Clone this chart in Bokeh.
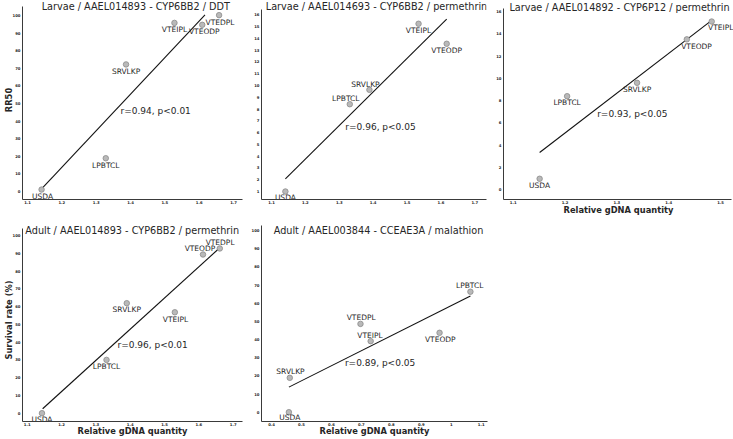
from bokeh.plotting import figure
from bokeh.models import Range1d, FixedTicker, Label, ColumnDataSource
from bokeh.layouts import column, row
from bokeh.embed import file_html
from bokeh.resources import INLINE
from bokeh.core.properties import value

# ---------------- data ----------------
# Panel 1: Larvae / AAEL014893 - CYP6BB2 / DDT
p1_names = ["USDA", "LPBTCL", "SRVLKP", "VTEIPL", "VTEODP", "VTEDPL"]
p1_x = [1.141, 1.328, 1.387, 1.528, 1.609, 1.658]
p1_y = [1.1, 18.9, 72.2, 95.8, 94.7, 100.2]
p1_fit_x = [1.141, 1.617]
p1_fit_y = [1.5, 100.4]
p1_stat = "r=0.94, p<0.01"
p1_xticks = [1.1, 1.2, 1.3, 1.4, 1.5, 1.6, 1.7]
p1_yticks = [0, 10, 20, 30, 40, 50, 60, 70, 80, 90, 100]

# Panel 2: Larvae / AAEL014693 - CYP6BB2 / permethrin
p2_names = ["USDA", "LPBTCL", "SRVLKP", "VTEIPL", "VTEODP"]
p2_x = [1.141, 1.331, 1.389, 1.534, 1.617]
p2_y = [1.0, 8.41, 9.63, 15.24, 13.54]
p2_fit_x = [1.141, 1.617]
p2_fit_y = [2.08, 15.63]
p2_stat = "r=0.96, p<0.05"
p2_xticks = [1.1, 1.2, 1.3, 1.4, 1.5, 1.6, 1.7]
p2_yticks = [1, 2, 3, 4, 5, 6, 7, 8, 9, 10, 11, 12, 13, 14, 15, 16]

# Panel 3: Larvae / AAEL014892 - CYP6P12 / permethrin
p3_names = ["USDA", "LPBTCL", "SRVLKP", "VTEODP", "VTEIPL"]
p3_x = [1.151, 1.204, 1.339, 1.435, 1.483]
p3_y = [0.99, 8.40, 9.6, 13.5, 15.1]
p3_fit_x = [1.151, 1.483]
p3_fit_y = [3.35, 15.2]
p3_stat = "r=0.93, p<0.05"
p3_xticks = [1.1, 1.2, 1.3, 1.4, 1.5]
p3_yticks = [0, 2, 4, 6, 8, 10, 12, 14, 16]

# Panel 4: Adult / AAEL014893 - CYP6BB2 / permethrin
p4_names = ["USDA", "LPBTCL", "SRVLKP", "VTEIPL", "VTEODP", "VTEDPL"]
p4_x = [1.143, 1.331, 1.39, 1.53, 1.612, 1.661]
p4_y = [0.0, 30.0, 61.9, 56.8, 89.3, 92.7]
p4_fit_x = [1.145, 1.661]
p4_fit_y = [2.5, 93.1]
p4_stat = "r=0.96, p<0.01"
p4_xticks = [1.1, 1.2, 1.3, 1.4, 1.5, 1.6, 1.7]
p4_yticks = [0, 10, 20, 30, 40, 50, 60, 70, 80, 90, 100]

# Panel 5: Adult / AAEL003844 - CCEAE3A / malathion
p5_names = ["USDA", "SRVLKP", "VTEDPL", "VTEIPL", "VTEODP", "LPBTCL"]
p5_x = [0.458, 0.461, 0.697, 0.731, 0.961, 1.064]
p5_y = [0.0, 18.9, 48.6, 39.1, 43.7, 66.3]
p5_fit_x = [0.458, 1.064]
p5_fit_y = [13.8, 63.9]
p5_stat = "r=0.89, p<0.05"
p5_xticks = [0.4, 0.5, 0.6, 0.7, 0.8, 0.9, 1.0, 1.1]
p5_xtick_labels = ["0.4", "0.5", "0.6", "0.7", "0.8", "0.9", "1", "1.1"]
p5_yticks = [0, 10, 20, 30, 40, 50, 60, 70, 80, 90, 100]

titles = [
    "Larvae / AAEL014893 - CYP6BB2 / DDT",
    "Larvae / AAEL014693 - CYP6BB2 / permethrin",
    "Larvae / AAEL014892 - CYP6P12 / permethrin",
    "Adult / AAEL014893 - CYP6BB2 / permethrin",
    "Adult / AAEL003844 - CCEAE3A / malathion",
]
x_label = "Relative gDNA quantity"
y_label_top = "RR50"
y_label_bottom = "Survival rate (%)"

# ---------------- styling / layout ----------------
FONT = "DejaVu Sans"
TXT = "#262626"


def lin(v0, p0, v1, p1):
    """pixel -> value mapping built from two tick anchors"""
    return lambda px: v0 + (px - p0) * (v1 - v0) / (p1 - p0)


def make_panel(fig_box, frame, xanc, yanc, spine, names, xs, ys, fx, fy,
               stat, stat_pos, xticks, yticks, dx, dy, title, title_pos,
               xlab=None, ylab=None, xtick_labels=None, xlab_standoff=-2):
    fx0, fy0, fw, fh = fig_box
    L, R, T, B = frame
    xv = lin(*xanc)
    yv = lin(*yanc)
    p = figure(width=fw, height=fh,
               x_range=Range1d(xv(L), xv(R)), y_range=Range1d(yv(B), yv(T)),
               min_border_left=L - fx0, min_border_right=fx0 + fw - R,
               min_border_top=T - fy0, min_border_bottom=fy0 + fh - B,
               toolbar_location=None, output_backend="svg", title=None)
    p.outline_line_color = None
    p.background_fill_color = "white"
    p.border_fill_color = "white"
    p.xgrid.visible = False
    p.ygrid.visible = False
    for ax in (p.xaxis[0], p.yaxis[0]):
        ax.axis_line_color = "#3a3a3a"
        ax.axis_line_width = 1
        ax.major_tick_line_color = None
        ax.minor_tick_line_color = None
        ax.major_tick_in = 0
        ax.major_tick_out = 0
        ax.major_label_text_font = FONT
        ax.major_label_text_font_size = "3.8px"
        ax.major_label_text_font_style = "bold"
        ax.major_label_text_color = TXT
        ax.axis_label_text_font = FONT
        ax.axis_label_text_font_size = "8.3px"
        ax.axis_label_text_font_style = "bold"
        ax.axis_label_text_color = TXT
    p.xaxis[0].axis_label_standoff = xlab_standoff
    p.yaxis[0].axis_label_standoff = -4
    # spine extents (axis lines) as in the reference
    p.yaxis[0].bounds = (yv(B), yv(spine[1]))
    p.xaxis[0].bounds = (xv(L), xv(spine[0]))
    p.xaxis[0].ticker = FixedTicker(ticks=xticks)
    p.yaxis[0].ticker = FixedTicker(ticks=yticks)
    p.xaxis[0].major_label_standoff = 1
    p.yaxis[0].major_label_standoff = 2
    if xtick_labels is not None:
        p.xaxis[0].major_label_overrides = {t: s for t, s in zip(xticks, xtick_labels)}
    else:
        p.xaxis[0].major_label_overrides = {t: ("%g" % t) for t in xticks}
    p.yaxis[0].major_label_overrides = {t: ("%g" % t) for t in yticks}
    if xlab:
        p.xaxis[0].axis_label = xlab
    if ylab:
        p.yaxis[0].axis_label = ylab

    # regression line
    p.line(fx, fy, line_color="#111111", line_width=1.1)

    src = ColumnDataSource(dict(x=xs, y=ys, name=names, dx=dx, dy=dy))
    p.scatter("x", "y", source=src, size=5.5, fill_color="#b9b9b9",
              line_color="#8a8a8a", line_width=0.8)
    p.text("x", "y", text="name", source=src, x_offset="dx", y_offset="dy",
           text_align="center", text_baseline="middle",
           text_font=value(FONT), text_font_size="7.5px", text_color=TXT)

    p.add_layout(Label(x=stat_pos[0], y=stat_pos[1], text=stat,
                       text_align="left", text_baseline="middle",
                       text_font=FONT, text_font_size="9px", text_color=TXT))

    # title drawn inside the (extended) frame
    p.add_layout(Label(x=xv(title_pos[0]), y=yv(title_pos[1]), text=title,
                       text_align="center", text_baseline="middle",
                       text_font=FONT, text_font_size="9.7px", text_color=TXT))
    return p


p1 = make_panel((0, 0, 245, 218), (22, 242, 0, 199), (1.1, 27, 1.7, 233), (0, 191, 100, 15), (242, 6),
                p1_names, p1_x, p1_y, p1_fit_x, p1_fit_y, p1_stat, (1.371, 46),
                p1_xticks, p1_yticks, [1, 0, 0, 0, 2, 1], [7, 7, 7, 7, 7, 7],
                titles[0], (135.3, 6), ylab=y_label_top)

p2 = make_panel((245, 0, 245, 218), (261, 486, 0, 199), (1.1, 271, 1.7, 474.3), (1, 191, 16, 14.3), (486, 9),
                p2_names, p2_x, p2_y, p2_fit_x, p2_fit_y, p2_stat, (1.318, 6.46),
                p2_xticks, p2_yticks, [0, -4, -4, 0, 0], [6, -5.5, -5.5, 6.7, 6.7],
                titles[1], (376, 6))

p3 = make_panel((490, 0, 243, 218), (503, 733, 0, 199), (1.1, 512.7, 1.5, 720), (0, 189.3, 16, 11), (731, 8),
                p3_names, p3_x, p3_y, p3_fit_x, p3_fit_y, p3_stat, (1.262, 6.82),
                p3_xticks, p3_yticks, [0, 0, 0, 9.7, 9], [7, 6.7, 6.7, 7.3, 6],
                titles[2], (619, 6.7), xlab=x_label, xlab_standoff=-2)

p4 = make_panel((0, 218, 245, 221), (22, 242, 218, 421), (1.1, 26.7, 1.7, 232.7), (0, 412.7, 100, 235), (242, 228),
                p4_names, p4_x, p4_y, p4_fit_x, p4_fit_y, p4_stat, (1.363, 38.1),
                p4_xticks, p4_yticks, [0, 0, 0, 0.7, -3, 0.3], [6.3, 6.7, 6.7, 7, -6.3, -6.3],
                titles[3], (131.7, 230), xlab=x_label, ylab=y_label_bottom, xlab_standoff=-3)

p5 = make_panel((245, 218, 245, 221), (261, 487, 218, 421), (0.4, 271, 1.1, 480.7), (0, 411.7, 100, 230), (487, 225),
                p5_names, p5_x, p5_y, p5_fit_x, p5_fit_y, p5_stat, (0.645, 27),
                p5_xticks, p5_yticks, [1, 0.7, 0.7, -0.7, 0.7, -0.7], [5.5, -6.7, -6, -5.7, 6.7, -6],
                titles[4], (378, 230), xlab=x_label, xtick_labels=p5_xtick_labels,
                xlab_standoff=-3)

layout = column(row(p1, p2, p3, spacing=0), row(p4, p5, spacing=0), spacing=0)

open("out.html", "w").write(file_html(layout, INLINE))
